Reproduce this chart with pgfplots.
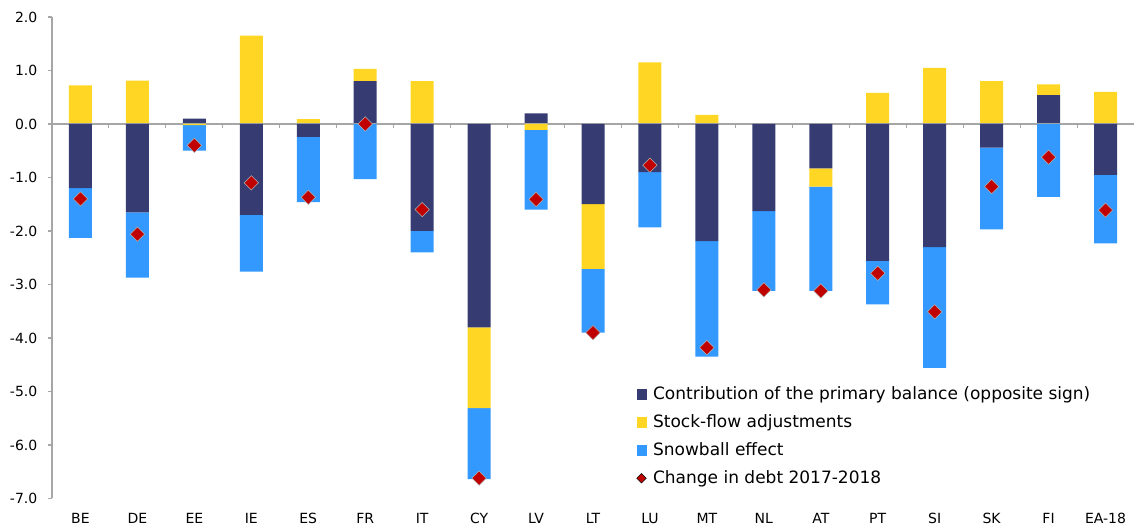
\documentclass[border=0pt]{standalone}
\usepackage{fontspec}
\setmainfont{DejaVu Sans}
\usepackage{pgfplots}
\usepackage{pgfplotstable}
\pgfplotsset{compat=1.18}

\definecolor{navy}{HTML}{363C72}
\definecolor{gold}{HTML}{FFD624}
\definecolor{sky}{HTML}{3399FF}
\definecolor{dred}{HTML}{C00000}
\definecolor{axgray}{HTML}{A6A6A6}

% dp/yp = positive parts, dn/yn/bn = negative parts, chg = change in debt
\pgfplotstableread{
x  lab   dp    yp    dn     yn     bn     chg
0  BE    0     0.72  -1.20  0      -0.93  -1.40
1  DE    0     0.81  -1.65  0      -1.22  -2.06
2  EE    0.10  0     0      -0.02  -0.48  -0.40
3  IE    0     1.65  -1.70  0      -1.06  -1.10
4  ES    0     0.09  -0.24  0      -1.22  -1.37
5  FR    0.80  0.23  0      0      -1.03  0.00
6  IT    0     0.80  -2.00  0      -0.40  -1.60
7  CY    0     0     -3.80  -1.51  -1.33  -6.62
8  LV    0.20  0     0      -0.11  -1.49  -1.41
9  LT    0     0     -1.50  -1.21  -1.19  -3.90
10 LU    0     1.15  -0.90  0      -1.03  -0.77
11 MT    0     0.17  -2.19  0      -2.16  -4.18
12 NL    0     0.01  -1.63  0      -1.49  -3.10
13 AT    0     0     -0.83  -0.34  -1.95  -3.12
14 PT    0     0.58  -2.56  0      -0.81  -2.79
15 SI    0     1.05  -2.30  0      -2.26  -3.51
16 SK    0     0.80  -0.44  0      -1.53  -1.17
17 FI    0.54  0.20  0      0      -1.36  -0.62
18 EA-18 0     0.60  -0.95  0      -1.28  -1.61
}\debt

\pgfplotsset{
  base/.style={
    at={(0,0)}, anchor=south west,
    scale only axis, width=811.5pt, height=361.125pt,
    xmin=-0.5, xmax=18.5, ymin=-7, ymax=2,
  },
  sq/.style={legend image code/.code={\fill[#1] (0pt,-3.5pt) rectangle (7pt,3.5pt);}},
}

\begin{document}
\begin{tikzpicture}
\path[use as bounding box] (-39pt,-24.375pt) rectangle (811.5pt,373.875pt);

% positive parts + axes
\begin{axis}[base,
  ybar stacked, bar width=17.25pt,
  axis x line*=bottom, axis y line*=left,
  x axis line style={draw=none},
  xtick=data, xticklabels from table={\debt}{lab},
  x tick style={draw=none},
  ytick={-7,-6,...,2},
  y tick style={axgray, line width=0.8pt},
  major tick length=3pt, tick align=outside,
  y axis line style={axgray, line width=0.8pt},
  yticklabel style={xshift=-4.5pt, /pgf/number format/.cd, fixed, fixed zerofill, precision=1, assume math mode=true},
  xticklabel style={yshift=-4.5pt},
  ticklabel style={font=\fontsize{10.5}{12}\selectfont},
]
\addplot[fill=navy, draw=none] table[x=x, y=dp]{\debt};
\addplot[fill=gold, draw=none] table[x=x, y=yp]{\debt};
\end{axis}

% negative parts
\begin{axis}[base, hide axis, ybar stacked, bar width=17.25pt]
\addplot[fill=navy, draw=none] table[x=x, y=dn]{\debt};
\addplot[fill=gold, draw=none] table[x=x, y=yn]{\debt};
\addplot[fill=sky, draw=none] table[x=x, y=bn]{\debt};
\draw[axgray, line width=0.8pt] (axis cs:-0.5,0) -- (axis cs:18.5,0);
\pgfplotsinvokeforeach{0,...,17}{
  \draw[axgray, line width=0.8pt] (axis cs:#1.5,0) -- ++(0pt,-3pt);
}
\end{axis}

% change in debt + legend
\begin{axis}[base, hide axis,
  legend cell align=left,
  legend style={at={(0.54,0.238)}, anchor=north west, draw=none, fill=none,
    inner sep=0pt, row sep=5.8pt, column sep=3pt, font=\fontsize{12.75}{15}\selectfont},
]
\addlegendimage{sq=navy}
\addlegendentry{Contribution of the primary balance (opposite sign)}
\addlegendimage{sq=gold}
\addlegendentry{Stock-flow adjustments}
\addlegendimage{sq=sky}
\addlegendentry{Snowball effect}
\addplot[only marks, mark=square*, mark size=3.8pt,
  mark options={rotate=45, fill=dred, draw=gray!60, line width=0.4pt},
  legend image code/.code={\draw[only marks, mark=square*, mark size=2.5pt, mark options={rotate=45, fill=dred, draw=none}] plot coordinates {(3.5pt,0pt)};}]
  table[x=x, y=chg]{\debt};
\addlegendentry{Change in debt 2017-2018}
\end{axis}
\end{tikzpicture}
\end{document}
